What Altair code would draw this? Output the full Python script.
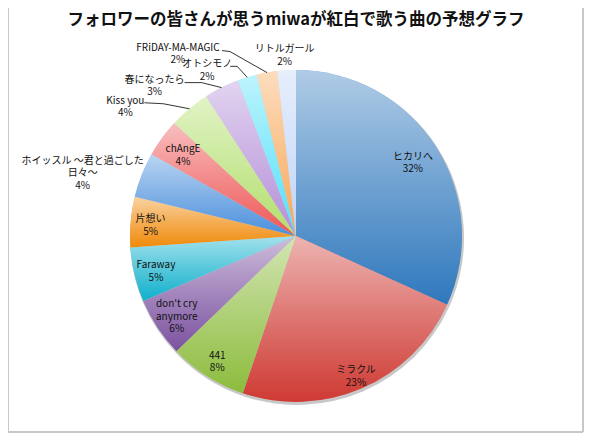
import altair as alt
import pandas as pd

# ---- data ----
songs = ["ヒカリへ", "ミラクル", "441", "don't cry anymore", "Faraway", "片想い",
         "ホイッスル ～君と過ごした日々～", "chAngE", "Kiss you", "春になったら",
         "オトシモノ", "FRiDAY-MA-MAGIC", "リトルガール"]
shares = [31.8, 23.4, 7.6, 5.8, 5.3, 4.9, 4.4, 3.7, 4.0, 3.4, 1.9, 2.0, 1.8]
label_names = ["ヒカリへ", "ミラクル", "441", "don't cry\nanymore", "Faraway", "片想い",
               "ホイッスル ～君と過ごした\n日々～", "chAngE", "Kiss you", "春になったら",
               "オトシモノ", "FRiDAY-MA-MAGIC", "リトルガール"]
slice_colors = ["#2f78bd", "#cf3a33", "#8cbc3c", "#7c52a0", "#0fb0cc", "#f08a0a",
                "#4a8fdc", "#ee5656", "#b2df6c", "#b48ed8", "#52e0fa", "#f8a656",
                "#c0d4f8"]
title_text = "フォロワーの皆さんが思うmiwaが紅白で歌う曲の予想グラフ"

df = pd.DataFrame({"idx": list(range(len(songs))), "song": songs,
                   "value": shares, "name": label_names})

# ---- label layout (styling only) ----
# inside labels: radial distance of the label block centre from the pie centre
inside_radius = {"ヒカリへ": 139, "ミラクル": 151, "441": 147, "don't cry anymore": 143,
                 "Faraway": 144, "片想い": 146, "chAngE": 140}
# outside labels: nudge of first text line from slice edge, optional leader elbow/end
outside_layout = {
    "ホイッスル ～君と過ごした日々～": (-59, -14, None),
    "Kiss you": (-64, -8, (-26, -5, -45, -6)),
    "春になったら": (-67, -8, (-20, -5, -37, -5)),
    "オトシモノ": (-40, -13, (-10, -11, -17, -11)),
    "FRiDAY-MA-MAGIC": (-89, -25, (-37, -21, -45, -22)),
    "リトルガール": (-2, -21, None),
}
rows = []
for s in songs:
    if s in outside_layout:
        tdx, tdy, ln = outside_layout[s]
        l4 = ln or (0, 0, 0, 0)
        rows.append({"song": s, "outside": True, "rin": 0, "tdx": tdx, "tdy": tdy,
                     "has_line": ln is not None, "e1x": l4[0], "e1y": l4[1],
                     "e2x": l4[2], "e2y": l4[3]})
    else:
        rows.append({"song": s, "outside": False, "rin": inside_radius[s], "tdx": 0,
                     "tdy": 0, "has_line": False, "e1x": 0, "e1y": 0, "e2x": 0, "e2y": 0})
layout_df = pd.DataFrame(rows)

W, H = 576, 425
CX, CY, R = 288, 228, 166
LH = 12.5
FONT = "Noto Sans CJK JP"

base = alt.Chart(df)

theta = alt.Theta("value:Q", stack=True)
order = alt.Order("idx:Q", sort="ascending")

shadow = base.mark_arc(radius=R + 1, fill="#c8c8c8").encode(
    theta=theta, order=order, x=alt.value(CX + 1), y=alt.value(CY + 2))

arcs = base.mark_arc(radius=R).encode(
    theta=theta, order=order,
    color=alt.Color("song:N", scale=alt.Scale(domain=songs, range=slice_colors),
                    legend=None),
    x=alt.value(CX), y=alt.value(CY))

gloss = base.mark_arc(
    radius=R,
    fill=alt.LinearGradient(
        gradient="linear", x1=0, y1=0, x2=0, y2=1,
        stops=[alt.GradientStop(offset=0, color="rgba(255,255,255,0.62)"),
               alt.GradientStop(offset=0.5, color="rgba(255,255,255,0.3)"),
               alt.GradientStop(offset=1, color="rgba(255,255,255,0)")]),
).encode(theta=theta, order=order, x=alt.value(CX), y=alt.value(CY))

geo = base.transform_joinaggregate(total="sum(value)").transform_window(
    cum="sum(value)", sort=[alt.SortField("idx")], frame=[None, 0]
).transform_lookup(
    lookup="song",
    from_=alt.LookupData(layout_df, key="song",
                         fields=["outside", "rin", "tdx", "tdy", "has_line",
                                 "e1x", "e1y", "e2x", "e2y"]),
).transform_calculate(
    mid="(datum.cum - datum.value / 2) / datum.total * 2 * PI",
    pct="format(datum.value / datum.total, '.0%')",
).transform_calculate(
    label="datum.name + '\\n' + datum.pct",
).transform_calculate(
    nlines="length(split(datum.label, '\\n'))",
    ix=f"{CX} + datum.rin * sin(datum.mid)",
    ex=f"{CX} + {R} * sin(datum.mid)",
    ey=f"{CY} - {R} * cos(datum.mid)",
).transform_calculate(
    iy=f"{CY} - datum.rin * cos(datum.mid) - (datum.nlines - 1) * {LH / 2}",
    tx="datum.ex + datum.tdx", ty="datum.ey + datum.tdy",
    bx="datum.ex + datum.e1x", by="datum.ey + datum.e1y",
    cx2="datum.ex + datum.e2x", cy2="datum.ey + datum.e2y",
)

text_style = dict(font=FONT, fontSize=10, color="#111111", lineBreak="\n",
                  lineHeight=LH, align="center", baseline="middle")

inside_text = geo.transform_filter("!datum.outside").mark_text(
    dy=2, **text_style).encode(
    x=alt.X("ix:Q", scale=None, axis=None),
    y=alt.Y("iy:Q", scale=None, axis=None),
    text="label:N")

outside = geo.transform_filter("datum.outside")
outside_text = outside.mark_text(**text_style).encode(
    x=alt.X("tx:Q", scale=None, axis=None),
    y=alt.Y("ty:Q", scale=None, axis=None),
    text="label:N")

lines = outside.transform_filter("datum.has_line")
seg1 = lines.mark_rule(color="#000000", strokeWidth=0.8).encode(
    x=alt.X("ex:Q", scale=None, axis=None), y=alt.Y("ey:Q", scale=None, axis=None),
    x2="bx:Q", y2="by:Q")
seg2 = lines.mark_rule(color="#000000", strokeWidth=0.8).encode(
    x=alt.X("bx:Q", scale=None, axis=None), y=alt.Y("by:Q", scale=None, axis=None),
    x2="cx2:Q", y2="cy2:Q")

single = alt.Chart(pd.DataFrame({"title": [title_text]}))
title_mark = single.mark_text(font=FONT, fontSize=16.5, fontWeight="bold",
                              color="#111111", align="center",
                              baseline="middle").encode(
    text="title:N", x=alt.value(CX), y=alt.value(12))

frame_right = single.mark_rule(color="#c8c8c8", strokeWidth=2).encode(
    x=alt.value(W - 1), y=alt.value(0), y2=alt.value(H - 1))
frame_bottom = single.mark_rule(color="#c8c8c8", strokeWidth=2).encode(
    x=alt.value(0), x2=alt.value(W - 1), y=alt.value(H - 1))
frame_left = single.mark_rule(color="#c8c8c8", strokeWidth=1).encode(
    x=alt.value(0.5), y=alt.value(0), y2=alt.value(H - 1))

chart = alt.layer(
    shadow, arcs, gloss, seg1, seg2, inside_text, outside_text, title_mark,
    frame_right, frame_bottom, frame_left,
).properties(
    width=W, height=H,
    background="white",
    autosize=alt.AutoSizeParams(type="none"),
    padding=0,
).configure_view(strokeWidth=0, stroke="transparent")

chart.save("out.html", embed_options={"renderer": "svg", "actions": False})
